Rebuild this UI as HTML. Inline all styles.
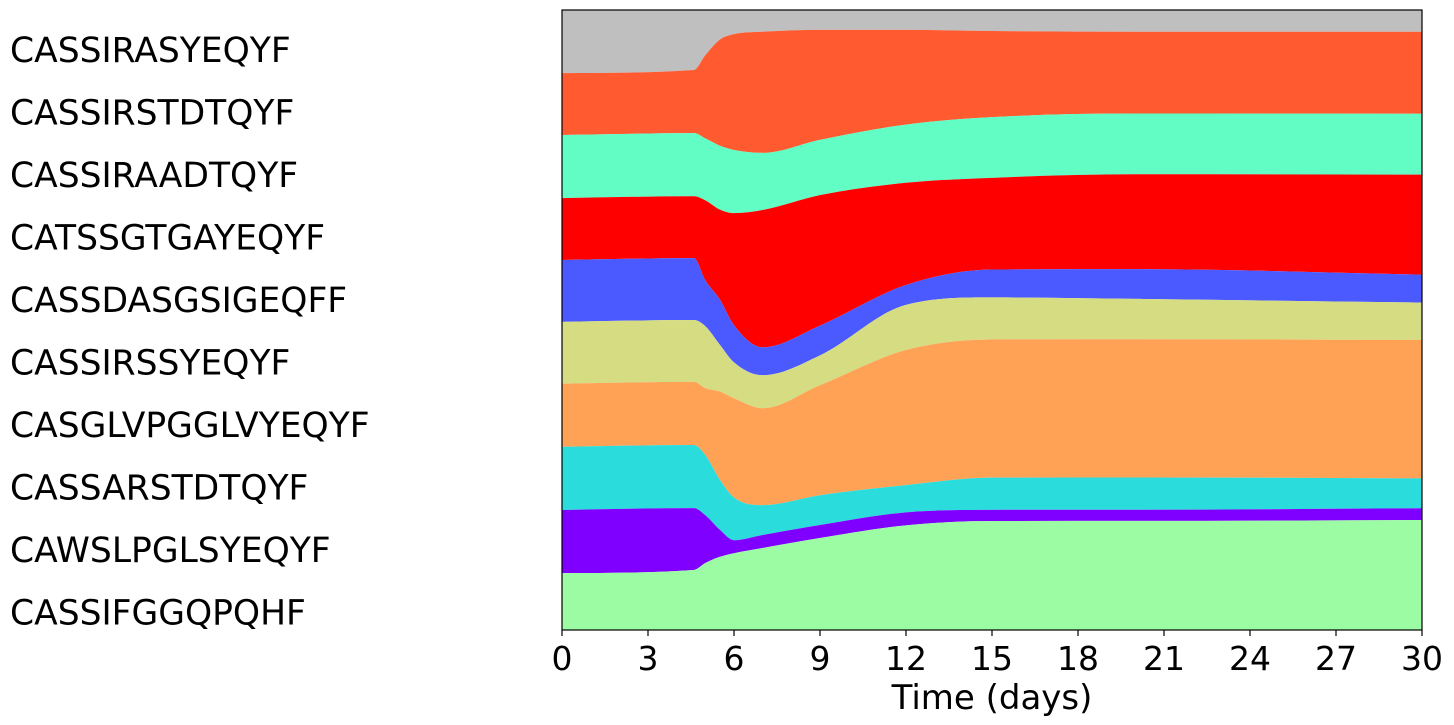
<!DOCTYPE html>
<html><head><meta charset="utf-8"><style>
body{margin:0;background:#fff;}
svg{display:block;font-family:"DejaVu Sans","Liberation Sans",sans-serif;}
</style></head><body>
<svg id="chart" width="1454" height="725"></svg>
<script>
const times=[0,4.6,5,5.5,6,7,9,12,15,20,30];
const names=["CASSIRASYEQYF","CASSIRSTDTQYF","CASSIRAADTQYF","CATSSGTGAYEQYF","CASSDASGSIGEQFF","CASSIRSSYEQYF","CASGLVPGGLVYEQYF","CASSARSTDTQYF","CAWSLPGLSYEQYF","CASSIFGGQPQHF"];
const colors=["#bfbfbf","#ff5a30","#62fdc4","#ff0000","#4b5aff","#d5dc82","#ffa256","#2bdcdc","#8000ff","#9cfca4"];
const sGrey=[10.2,9.7,7.3,4.8,3.9,3.5,3.2,3.2,3.4,3.5,3.5];
const sTomato=[10,10.2,13.4,17.1,18.7,19.5,17.7,15.3,13.9,13.2,13.2];
const sMint=[10.2,10.2,10,10.3,10.2,9.2,8.9,9.4,9.8,9.8,9.8];
const sRed=[10,10,12.9,14.5,18.1,22.1,21,16.5,14.8,15.3,16.1];
const sBlue=[10,10,7.4,7.3,6,4.5,4.8,3.2,4.5,4.8,4.5];
const sKhaki=[10,10,10,7.6,5.8,5.3,4.8,7.3,6.8,6.5,6];
const sOrange=[10.2,10.2,10.8,14.2,16,15.6,17.7,21.8,22.3,22.3,22.3];
const sCyan=[10.2,10.2,9.7,8.1,6.9,4.8,4.8,4.4,5.2,5.2,4.8];
const sPurple=[10.2,10,7.7,4.4,2.1,2.1,2.1,2.1,1.8,1.8,1.9];
const sGreen=[9.2,9.7,10.8,11.8,12.4,13.2,14.8,16.9,17.6,17.6,17.7];
const series=[sGrey,sTomato,sMint,sRed,sBlue,sKhaki,sOrange,sCyan,sPurple,sGreen];
const xTicks=[0,3,6,9,12,15,18,21,24,27,30];

const X0=562,X1=1422,Y0=10,Y1=630;
const xs=t=>X0+(t-0)/30*(X1-X0);
const ys=f=>Y0+f*(Y1-Y0);
const NS="http://www.w3.org/2000/svg";
const svg=document.getElementById('chart');
function mk(tag,attrs,parent){const e=document.createElementNS(NS,tag);for(const k in attrs)e.setAttribute(k,attrs[k]);(parent||svg).appendChild(e);return e;}

const tot=times.map((_,i)=>series.reduce((a,s)=>a+s[i],0));
const bounds=[times.map(()=>0)];
for(let k=0;k<series.length;k++){bounds.push(times.map((_,i)=>bounds[k][i]+series[k][i]/tot[i]));}
function smooth(pts){
  const n=pts.length,dk=[],m=[];
  for(let i=0;i<n-1;i++)dk.push((pts[i+1][1]-pts[i][1])/(pts[i+1][0]-pts[i][0]));
  for(let i=0;i<n;i++){
    if(i===0)m.push(dk[0]);else if(i===n-1)m.push(dk[n-2]);
    else m.push(dk[i-1]*dk[i]<=0?0:(dk[i-1]+dk[i])/2);
  }
  for(let i=0;i<n-1;i++){
    if(dk[i]===0){m[i]=0;m[i+1]=0;continue;}
    const a=m[i]/dk[i],b=m[i+1]/dk[i],s=a*a+b*b;
    if(s>9){const tt=3/Math.sqrt(s);m[i]=tt*a*dk[i];m[i+1]=tt*b*dk[i];}
  }
  let d="";
  for(let i=0;i<n-1;i++){
    const dx=pts[i+1][0]-pts[i][0];
    d+=` C${pts[i][0]+dx/3},${pts[i][1]+m[i]*dx/3} ${pts[i+1][0]-dx/3},${pts[i+1][1]-m[i+1]*dx/3} ${pts[i+1][0]},${pts[i+1][1]}`;
  }
  return d;
}
const g=mk('g',{});


for(let k=0;k<series.length;k++){
  const top=times.map((t,i)=>[xs(t),ys(bounds[k][i])]);
  const bot=times.map((t,i)=>[xs(t),ys(bounds[k+1][i])]);
  let d=`M${top[0][0]},${top[0][1]}`+smooth(top)+` L${bot[bot.length-1][0]},${bot[bot.length-1][1]}`;
  const fw=smooth(bot).trim().split(' C').filter(s=>s).map(s=>s.replace(/^C/,'').split(' '));
  for(let i=fw.length-1;i>=0;i--){
    const end=i===0?`${bot[0][0]},${bot[0][1]}`:fw[i-1][2];
    d+=` C${fw[i][1]} ${fw[i][0]} ${end}`;
  }
  d+="Z";
  const p=mk('path',{d:d,fill:colors[k]},g);
  
  
  const lab=mk('text',{x:10,y:50+k*62.5+12,'font-size':34.5,fill:'#000'});
  lab.textContent=names[k];
  
  
}
const frame=mk('rect',{x:X0,y:Y0,width:X1-X0,height:Y1-Y0,fill:'none',stroke:'#000','stroke-width':1.2});


xTicks.forEach(t=>{
  const l=mk('line',{x1:xs(t),x2:xs(t),y1:Y1,y2:Y1+6,stroke:'#000','stroke-width':1.2});
  
  
  const tx=mk('text',{x:xs(t),y:Y1+40,'font-size':33,'text-anchor':'middle'});
  tx.textContent=t;
  
  
});
const title=mk('text',{x:(X0+X1)/2,y:709,'font-size':34,'text-anchor':'middle'});
title.textContent="Time (days)";


</script>
</body></html>
